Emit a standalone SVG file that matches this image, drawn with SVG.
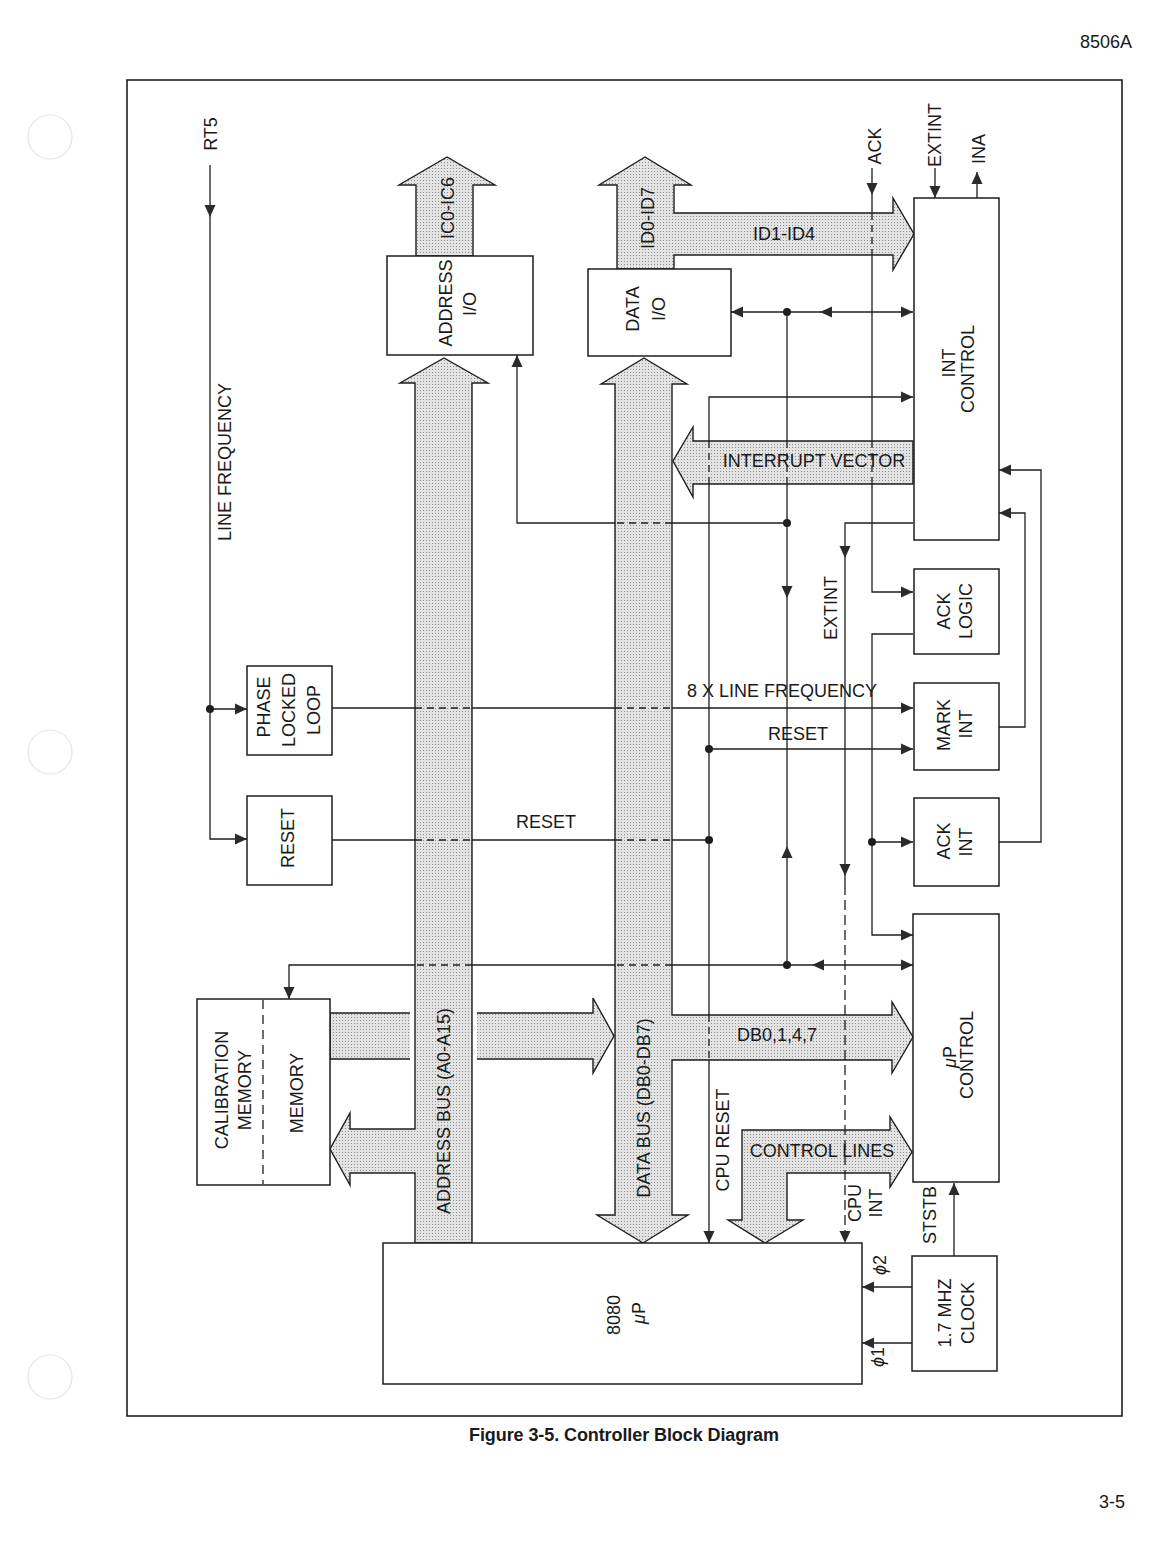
<svg xmlns="http://www.w3.org/2000/svg" xmlns:xlink="http://www.w3.org/1999/xlink" width="1176" height="1544" viewBox="0 0 1176 1544">
<defs>
<style>
.box{fill:#fff;stroke:#1e1e1e;stroke-width:1.5}
.bus{fill:url(#dots);stroke:#1e1e1e;stroke-width:1.4}
.ln{fill:none;stroke:#1e1e1e;stroke-width:1.3}
.dl{fill:none;stroke:#1e1e1e;stroke-width:1.3;stroke-dasharray:7 5}
.t{font-family:"Liberation Sans",Arial,Helvetica,sans-serif;font-size:18px;fill:#1a1a1a}
.tr{font-family:"Liberation Sans",Arial,Helvetica,sans-serif;font-size:18px;fill:#1a1a1a;text-anchor:middle}
.dot{fill:#1e1e1e}
.ah{fill:#2a2a2a}
.hole{fill:none;stroke:#e4e4e4;stroke-width:1.2}
</style>
<pattern id="dots" width="3" height="3" patternUnits="userSpaceOnUse">
<rect width="3" height="3" fill="#e3e3e3"/>
<rect width="1" height="1" fill="#8e8e8e"/>
</pattern>
<path id="ah" d="M0,0 L-12,-5.5 L-12,5.5 Z"/>
</defs>
<rect width="1176" height="1544" fill="#fff"/>

<!-- page furniture -->
<circle class="hole" cx="50" cy="137" r="22"/>
<circle class="hole" cx="50" cy="752" r="22"/>
<circle class="hole" cx="50" cy="1377" r="22"/>
<text class="t" x="1080" y="48" font-size="15">8506A</text>
<rect x="127" y="80" width="995" height="1336" fill="none" stroke="#1e1e1e" stroke-width="1.6"/>
<text class="t" x="469" y="1441" font-size="16" font-weight="bold" textLength="310">Figure 3-5. Controller Block Diagram</text>
<text class="t" x="1099" y="1508" font-size="15">3-5</text>

<!-- buses -->
<g id="buses">
<path class="bus" d="M330,1013 H593 V998 L614,1036 L593,1073 V1059 H330 Z"/>
<rect x="410" y="1011" width="67" height="50" fill="#fff"/>
<path class="bus" d="M415,1243 V1173 H350 V1185 L330,1149 L350,1113 V1129 H415 V383 H400 L444,358 L488,383 H472 V1243 Z"/>
<path class="bus" d="M416,256 V185 H399 L447,157 L495,185 H473 V256 Z"/>
<path class="bus" d="M617,269 V185 H599 L645,157 L691,185 H674 V213 H893 V198 L914,234 L893,270 V255 H674 V269 Z"/>
<path class="bus" d="M597,1215 H615 V384 H601 L644,358 L687,384 H672 V1015 H892 V1002 L913,1037 L892,1073 V1060 H672 V1215 H688 L643,1243 Z"/>
<path class="bus" d="M913,441 H693 V427 L673,461 L693,497 V484 H913 Z"/>
<path class="bus" d="M742,1220 V1130 H890 V1117 L912,1152 L890,1187 V1173 H787 V1220 H803 L765,1243 L728,1220 Z"/>
</g>

<!-- nodes -->
<g id="addr_io">
<rect class="box" x="387" y="256" width="146" height="99"/>
<text class="tr" transform="translate(445,303) rotate(-90)" y="6.5">ADDRESS</text>
<text class="tr" transform="translate(469,304) rotate(-90)" y="6.5">I/O</text>
</g>
<g id="data_io">
<rect class="box" x="588" y="269" width="143" height="87"/>
<text class="tr" transform="translate(632,309) rotate(-90)" y="6.5">DATA</text>
<text class="tr" transform="translate(658,309) rotate(-90)" y="6.5">I/O</text>
</g>
<g id="int_control">
<rect class="box" x="914" y="198" width="85" height="342"/>
<text class="tr" transform="translate(948,363) rotate(-90)" y="6.5">INT</text>
<text class="tr" transform="translate(967,369) rotate(-90)" y="6.5">CONTROL</text>
</g>
<g id="ack_logic">
<rect class="box" x="914" y="569" width="85" height="85"/>
<text class="tr" transform="translate(943,611) rotate(-90)" y="6.5">ACK</text>
<text class="tr" transform="translate(965,611) rotate(-90)" y="6.5">LOGIC</text>
</g>
<g id="mark_int">
<rect class="box" x="914" y="683" width="85" height="87"/>
<text class="tr" transform="translate(943,725) rotate(-90)" y="6.5">MARK</text>
<text class="tr" transform="translate(965,724) rotate(-90)" y="6.5">INT</text>
</g>
<g id="ack_int">
<rect class="box" x="914" y="798" width="85" height="88"/>
<text class="tr" transform="translate(943,841) rotate(-90)" y="6.5">ACK</text>
<text class="tr" transform="translate(965,842) rotate(-90)" y="6.5">INT</text>
</g>
<g id="up_control">
<rect class="box" x="913" y="914" width="86" height="268"/>
<text class="tr" transform="translate(949,1057) rotate(-90)" y="6.5"><tspan font-style="italic">μ</tspan>P</text>
<text class="tr" transform="translate(966,1055) rotate(-90)" y="6.5">CONTROL</text>
</g>
<g id="clock">
<rect class="box" x="912" y="1256" width="85" height="115"/>
<text class="tr" transform="translate(944,1313) rotate(-90)" y="6.5">1.7 MHZ</text>
<text class="tr" transform="translate(967,1313) rotate(-90)" y="6.5">CLOCK</text>
</g>
<g id="cpu_8080">
<rect class="box" x="383" y="1243" width="479" height="141"/>
<text class="tr" transform="translate(614,1315) rotate(-90)" y="6" font-size="17">8080</text>
<text class="tr" transform="translate(639,1313) rotate(-90)" y="6" font-size="17"><tspan font-style="italic">μ</tspan>P</text>
</g>
<g id="pll">
<rect class="box" x="247" y="666" width="85" height="89"/>
<text class="tr" transform="translate(263,707) rotate(-90)" y="6.5">PHASE</text>
<text class="tr" transform="translate(288,710) rotate(-90)" y="6.5">LOCKED</text>
<text class="tr" transform="translate(313,710) rotate(-90)" y="6.5">LOOP</text>
</g>
<g id="reset">
<rect class="box" x="247" y="796" width="85" height="89"/>
<text class="tr" transform="translate(287,838) rotate(-90)" y="6.5">RESET</text>
</g>
<g id="memory">
<rect class="box" x="197" y="999" width="133" height="186"/>
<line x1="263" y1="1000" x2="263" y2="1184" stroke="#1e1e1e" stroke-width="1.3" stroke-dasharray="9 6"/>
<text class="tr" transform="translate(221,1090) rotate(-90)" y="6.5">CALIBRATION</text>
<text class="tr" transform="translate(244,1090) rotate(-90)" y="6.5">MEMORY</text>
<text class="tr" transform="translate(296,1093) rotate(-90)" y="6.5">MEMORY</text>
</g>

<!-- connectors -->
<g id="connectors">
<path class="ln" d="M210,165 V839 H247"/>
<path class="ln" d="M210,709 H247"/>
<path class="ln" d="M332,708 H415 M472,708 H615 M672,708 H913"/>
<path class="dl" d="M415,708 H472 M615,708 H672"/>
<path class="ln" d="M332,840 H415 M472,840 H615 M672,840 H709"/>
<path class="dl" d="M415,840 H472 M615,840 H672"/>
<path class="ln" d="M913,397 H709 V441 M709,484 V1015 M709,1060 V1243"/>
<path class="dl" d="M709,441 V484 M709,1015 V1060"/>
<path class="ln" d="M709,749 H913"/>
<path class="ln" d="M731,312 H913"/>
<path class="ln" d="M787,312 V441 M787,484 V965"/>
<path class="dl" d="M787,441 V484"/>
<path class="ln" d="M787,523 H672 M615,523 H517 V355"/>
<path class="dl" d="M672,523 H615"/>
<path class="ln" d="M913,965 H672 M615,965 H472 M415,965 H289 V999"/>
<path class="dl" d="M672,965 H615 M472,965 H415"/>
<path class="ln" d="M872,168 V213 M872,255 V441 M872,484 V592 H913"/>
<path class="dl" d="M872,213 V255 M872,441 V484"/>
<path class="ln" d="M913,634 H872 V935 H913"/>
<path class="ln" d="M872,842 H913"/>
<path class="ln" d="M913,523 H845 V885"/>
<path class="ln" d="M845,885 V1243" stroke-dasharray="10 5"/>
<path class="ln" d="M935,168 V198"/>
<path class="ln" d="M977,198 V172"/>
<path class="ln" d="M999,727 H1025 V513 H999"/>
<path class="ln" d="M999,842 H1041 V470 H999"/>
<path class="ln" d="M954,1256 V1183"/>
<path class="ln" d="M912,1287 H862 M912,1343 H862"/>

<g class="ah">
<use xlink:href="#ah" transform="translate(247,839)"/>
<use xlink:href="#ah" transform="translate(247,709)"/>
<use xlink:href="#ah" transform="translate(913,708)"/>
<use xlink:href="#ah" transform="translate(913,397)"/>
<use xlink:href="#ah" transform="translate(913,749)"/>
<use xlink:href="#ah" transform="translate(913,312)"/>
<use xlink:href="#ah" transform="translate(913,965)"/>
<use xlink:href="#ah" transform="translate(913,592)"/>
<use xlink:href="#ah" transform="translate(913,935)"/>
<use xlink:href="#ah" transform="translate(913,842)"/>
<use xlink:href="#ah" transform="translate(731,312) rotate(180)"/>
<use xlink:href="#ah" transform="translate(820,312) rotate(180)"/>
<use xlink:href="#ah" transform="translate(812,965) rotate(180)"/>
<use xlink:href="#ah" transform="translate(999,513) rotate(180)"/>
<use xlink:href="#ah" transform="translate(999,470) rotate(180)"/>
<use xlink:href="#ah" transform="translate(862,1287) rotate(180)"/>
<use xlink:href="#ah" transform="translate(862,1343) rotate(180)"/>
<use xlink:href="#ah" transform="translate(210,217) rotate(90)"/>
<use xlink:href="#ah" transform="translate(709,1243) rotate(90)"/>
<use xlink:href="#ah" transform="translate(787,598) rotate(90)"/>
<use xlink:href="#ah" transform="translate(289,999) rotate(90)"/>
<use xlink:href="#ah" transform="translate(872,195) rotate(90)"/>
<use xlink:href="#ah" transform="translate(845,558) rotate(90)"/>
<use xlink:href="#ah" transform="translate(845,876) rotate(90)"/>
<use xlink:href="#ah" transform="translate(845,1243) rotate(90)"/>
<use xlink:href="#ah" transform="translate(935,198) rotate(90)"/>
<use xlink:href="#ah" transform="translate(787,846) rotate(270)"/>
<use xlink:href="#ah" transform="translate(517,355) rotate(270)"/>
<use xlink:href="#ah" transform="translate(977,172) rotate(270)"/>
<use xlink:href="#ah" transform="translate(954,1183) rotate(270)"/>
</g>
<g class="dot">
<circle cx="210" cy="709" r="4"/>
<circle cx="787" cy="312" r="4"/>
<circle cx="787" cy="523" r="4"/>
<circle cx="787" cy="965" r="4"/>
<circle cx="709" cy="749" r="4"/>
<circle cx="709" cy="840" r="4"/>
<circle cx="872" cy="842" r="4"/>
</g>
</g>

<!-- labels -->
<g id="labels">
<text class="tr" transform="translate(210,134) rotate(-90)" y="6.5">RT5</text>
<text class="tr" transform="translate(224,462) rotate(-90)" y="6.5">LINE FREQUENCY</text>
<text class="tr" transform="translate(447,208) rotate(-90)" y="6.5">IC0-IC6</text>
<text class="tr" transform="translate(647,218) rotate(-90)" y="6.5">ID0-ID7</text>
<text class="tr" transform="translate(874,146) rotate(-90)" y="6.5">ACK</text>
<text class="tr" transform="translate(934,135) rotate(-90)" y="6.5">EXTINT</text>
<text class="tr" transform="translate(978,149) rotate(-90)" y="6.5">INA</text>
<text class="tr" transform="translate(830,608) rotate(-90)" y="6.5">EXTINT</text>
<text class="tr" transform="translate(443,1111) rotate(-90)" y="6.5">ADDRESS BUS (A0-A15)</text>
<text class="tr" transform="translate(643,1108) rotate(-90)" y="6.5">DATA BUS (DB0-DB7)</text>
<text class="tr" transform="translate(722,1140) rotate(-90)" y="6.5">CPU RESET</text>
<text class="tr" transform="translate(854,1203) rotate(-90)" y="6.5">CPU</text>
<text class="tr" transform="translate(875,1203) rotate(-90)" y="6.5">INT</text>
<text class="tr" transform="translate(929,1215) rotate(-90)" y="6.5">STSTB</text>
<text class="tr" transform="translate(881,1265) rotate(-90)" y="5" font-size="15"><tspan font-style="italic">ϕ</tspan>2</text>
<text class="tr" transform="translate(879,1357) rotate(-90)" y="5" font-size="15"><tspan font-style="italic">ϕ</tspan>1</text>
<text class="tr" x="784" y="240">ID1-ID4</text>
<text class="tr" x="814" y="467">INTERRUPT VECTOR</text>
<text class="tr" x="782" y="697">8 X LINE FREQUENCY</text>
<text class="tr" x="798" y="740">RESET</text>
<text class="tr" x="546" y="828">RESET</text>
<text class="tr" x="777" y="1041">DB0,1,4,7</text>
<text class="tr" x="822" y="1157">CONTROL LINES</text>
</g>
</svg>
